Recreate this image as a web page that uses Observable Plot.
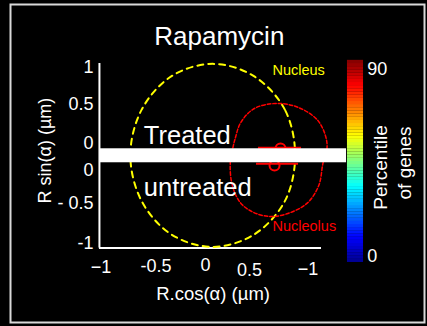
<!DOCTYPE html>
<html><head><meta charset="utf-8">
<script src="https://cdn.jsdelivr.net/npm/d3@7"></script>
<script src="https://cdn.jsdelivr.net/npm/@observablehq/plot@0.6"></script>
<style>
html,body{margin:0;padding:0;background:#000;}
#chart svg{display:block;}
</style></head><body><div id="chart"></div>
<script>
// ---- data ----
const title = "Rapamycin";
const xLabel = "R.cos(\u03B1) (\u00B5m)";
const yLabel = "R sin(\u03B1) (\u00B5m)";
// x tick labels and where they sit
const xTickLabels = ["\u22121", "-0.5", "0", "0.5", "\u22121"];
const xTickAt = [-1.005, -0.471, 0.01, 0.437, 1.005];
const xTickRow = [-1.278, -1.273, -1.261, -1.31, -1.307];
// y tick labels (composite: treated above, untreated below)
const yTickLabels = ["1", "0.5", "0", "0", "- 0.5", "-1"];
const yTickAt = [0.992, 0.568, 0.131, -0.176, -0.551, -1.003];
// nucleus outline (yellow dashed)
const nucleusX = [0.88, 0.78, 0.48, 0.08, -0.32, -0.61, -0.72, -0.61, -0.32, 0.08, 0.48, 0.78];
const nucleusY = [-0.01, 0.51, 0.89, 1.03, 0.89, 0.51, -0.01, -0.53, -0.91, -1.05, -0.91, -0.53];
// nucleolus outline (red dashed)
const nucleolusX = [0.28, 0.30, 0.35, 0.48, 0.69, 0.90, 1.09, 1.17, 1.19, 1.15, 1.11, 1.00, 0.81, 0.64, 0.48, 0.35, 0.27, 0.25];
const nucleolusY = [0.10, 0.19, 0.36, 0.52, 0.58, 0.54, 0.40, 0.23, 0.08, -0.10, -0.35, -0.55, -0.67, -0.705, -0.66, -0.55, -0.35, -0.10];
// nucleolus centre markers: treated, untreated
const markerX = [0.738, 0.68];
const markerY = [0.068, -0.125];
const markerBarX1 = [0.524, 0.505];
const markerBarX2 = [0.942, 0.913];
const markerBarY = [0.076, -0.106];
// colour bar
const cbMin = 0, cbMax = 90;
const cbLabels = ["90", "0"];
const cbLabelY = [0.974, -1.153];
const cbTitle = ["Percentile", "of genes"];
// panel annotations
const panelLabels = ["Treated", "untreated"];
const panelLabelY = [0.122, -0.466];
const regionLabels = ["Nucleus", "Nucleolus"];
const regionLabelY = [0.909, -0.864];
const regionColors = ["#ffff00", "#ff0000"];

// ---- layout helpers (in the chart's own x/y units) ----
const axisX0 = -1.02, axisX1 = 1.136, axisY0 = -1.063, axisY1 = 1.034;
const cbX1 = 1.388, cbX2 = 1.544, cbYlo = -1.227, cbYhi = 1.068;
const cbY = p => cbYlo + (p - cbMin) / (cbMax - cbMin) * (cbYhi - cbYlo);
const nSteps = 64;
const step = (cbMax - cbMin) / nSteps;
const cbSteps = d3.range(nSteps).map(i => cbMin + i * step);

const nucleus = nucleusX.map((x, i) => ({x, y: nucleusY[i]}));
const nucleolus = nucleolusX.map((x, i) => ({x, y: nucleolusY[i]}));
const markers = markerX.map((x, i) => ({x, y: markerY[i], x1: markerBarX1[i], x2: markerBarX2[i], yb: markerBarY[i]}));

const font = "'Liberation Sans', Arial, Helvetica, sans-serif";

const chart = Plot.plot({
  width: 427, height: 326, margin: 0,
  style: {background: "#000", color: "#fff", fontFamily: font, overflow: "visible"},
  x: {domain: [-1, 1], range: [101, 307], axis: null},
  y: {domain: [-1, 1], range: [242, 66], axis: null},
  color: {type: "linear", domain: [0, 11.25, 33.75, 56.25, 78.75, 90],
          range: ["#00008f", "#0000ff", "#00ffff", "#ffff00", "#ff0000", "#800000"], interpolate: "rgb"},
  marks: [
    Plot.frame({stroke: "#d9d9d9", strokeWidth: 2, insetLeft: 10, insetTop: 4, insetRight: 3, insetBottom: 4}),
    // axes lines
    Plot.ruleX([axisX0], {y1: axisY0, y2: axisY1, stroke: "#fff", strokeWidth: 2}),
    Plot.ruleY([axisY0], {x1: axisX0, x2: axisX1, stroke: "#fff", strokeWidth: 2}),
    // nucleus & nucleolus outlines
    Plot.line(nucleus, {x: "x", y: "y", curve: "catmull-rom-closed", stroke: "#ffff00", strokeWidth: 2, strokeDasharray: "6,5"}),
    Plot.line(nucleolus, {x: "x", y: "y", curve: "catmull-rom-closed", stroke: "#ff0000", strokeWidth: 1.5, strokeDasharray: "3.5,2"}),
    Plot.ruleY(markers, {y: "yb", x1: "x1", x2: "x2", stroke: "#ff0000", strokeWidth: 2}),
    Plot.dot(markers, {x: "x", y: "y", r: 5, stroke: "#ff0000", strokeWidth: 2}),
    // white separator bar
    Plot.rect([0], {x1: -1.019, x2: 1.379, y1: 0.065, y2: -0.094, fill: "#fff"}),
    // colour bar
    Plot.rect(cbSteps, {x1: cbX1, x2: cbX2, y1: d => cbY(d), y2: d => cbY(d + step) + 0.002, fill: d => d + step / 2}),
    Plot.text(cbLabels, {x: 1.58, y: (d, i) => cbLabelY[i], textAnchor: "start", fontSize: 18, fill: "#fff"}),
    Plot.text(cbTitle, {x: (d, i) => [1.709, 1.942][i], y: (d, i) => [-0.148, -0.097][i], rotate: -90, fontSize: 19, fill: "#fff"}),
    // title
    Plot.text([title], {x: 0.144, y: 1.239, lineAnchor: "bottom", fontSize: 26, fill: "#fff"}),
    // tick labels
    Plot.text(yTickLabels, {x: -1, y: (d, i) => yTickAt[i], dx: -8, textAnchor: "end", fontSize: 18, fill: "#fff"}),
    Plot.text(xTickLabels, {x: (d, i) => xTickAt[i], y: (d, i) => xTickRow[i], fontSize: 18, fill: "#fff"}),
    // axis titles
    Plot.text([xLabel], {x: 0.083, y: -1.659, lineAnchor: "bottom", fontSize: 18.5, fill: "#fff"}),
    Plot.text([yLabel], {x: -1.544, y: 0.045, rotate: -90, fontSize: 18, fill: "#fff"}),
    // panel + region annotations
    Plot.text(panelLabels, {x: -0.589, y: (d, i) => panelLabelY[i], lineAnchor: "bottom", textAnchor: "start", fontSize: 25.5, fill: "#fff"}),
    Plot.text(regionLabels, {x: 0.66, y: (d, i) => regionLabelY[i], lineAnchor: "bottom", textAnchor: "start", fontSize: 14.5, fill: (d, i) => regionColors[i]})
  ]
});
document.getElementById("chart").append(chart);
</script>
</body></html>
